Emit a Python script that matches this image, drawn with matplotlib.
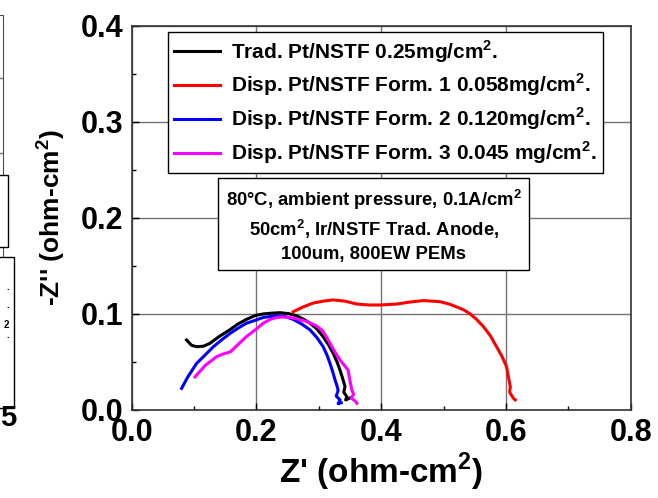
import numpy as np
import matplotlib
matplotlib.use("Agg")
import matplotlib.pyplot as plt
from matplotlib.patches import Rectangle
from matplotlib.ticker import MultipleLocator, FormatStrFormatter

plt.rcParams['font.family'] = ['Liberation Sans', 'DejaVu Sans']
plt.rcParams['font.weight'] = 'bold'
plt.rcParams['mathtext.fontset'] = 'custom'
plt.rcParams['mathtext.bf'] = 'Liberation Sans:bold'
plt.rcParams['mathtext.rm'] = 'Liberation Sans:bold'

# Nyquist data (Z', -Z'' in ohm-cm2)
trad_x = [0.088, 0.096, 0.104, 0.115, 0.1255, 0.14, 0.157, 0.17, 0.184, 0.198, 0.211, 0.225, 0.238,
          0.252, 0.265, 0.276, 0.286, 0.297, 0.307, 0.316, 0.323, 0.329, 0.334, 0.338, 0.342,
          0.340, 0.345, 0.343, 0.350]
trad_y = [0.0725, 0.067, 0.0655, 0.066, 0.069, 0.076, 0.083, 0.089, 0.094, 0.098, 0.0997, 0.1005, 0.101,
          0.100, 0.0976, 0.094, 0.090, 0.084, 0.076, 0.067, 0.0587, 0.050, 0.041, 0.033, 0.024,
          0.018, 0.0134, 0.010, 0.012]

f1_x = [0.259, 0.275, 0.291, 0.307, 0.323, 0.342, 0.361, 0.380, 0.398, 0.412, 0.425, 0.445, 0.4675,
        0.494, 0.509, 0.521, 0.532, 0.542, 0.553, 0.564, 0.575, 0.585, 0.594, 0.601, 0.604, 0.607,
        0.606, 0.612, 0.615]
f1_y = [0.102, 0.107, 0.111, 0.113, 0.1143, 0.113, 0.110, 0.109, 0.109, 0.1095, 0.110, 0.112, 0.1136,
        0.1125, 0.110, 0.107, 0.104, 0.100, 0.094, 0.0864, 0.077, 0.0655, 0.055, 0.0447, 0.034, 0.024,
        0.018, 0.0117, 0.010]

f2_x = [0.080, 0.090, 0.104, 0.118, 0.131, 0.145, 0.158, 0.171, 0.184, 0.198, 0.211, 0.222, 0.233,
        0.246, 0.259, 0.273, 0.286, 0.297, 0.307, 0.313, 0.318, 0.322, 0.326, 0.329, 0.331, 0.328,
        0.334, 0.331, 0.336]
f2_y = [0.022, 0.034, 0.048, 0.057, 0.0655, 0.073, 0.0795, 0.085, 0.090, 0.093, 0.096, 0.097, 0.0976,
        0.097, 0.094, 0.089, 0.083, 0.075, 0.0655, 0.057, 0.048, 0.040, 0.031, 0.025, 0.020, 0.014,
        0.010, 0.006, 0.007]

f3_x = [0.1015, 0.118, 0.136, 0.147, 0.158, 0.171, 0.184, 0.198, 0.211, 0.222, 0.232, 0.243, 0.254,
        0.268, 0.281, 0.294, 0.305, 0.312, 0.318, 0.326, 0.334, 0.341, 0.347, 0.350, 0.353, 0.356,
        0.352, 0.358, 0.361]
f3_y = [0.034, 0.046, 0.055, 0.058, 0.060, 0.068, 0.076, 0.083, 0.090, 0.094, 0.096, 0.0965, 0.096,
        0.094, 0.0917, 0.088, 0.083, 0.076, 0.069, 0.060, 0.0517, 0.046, 0.041, 0.030, 0.020, 0.016,
        0.012, 0.009, 0.0065]

sq = '$^{\\mathbf{2}}$'
series = [
    (trad_x, trad_y, 'black', 'Trad. Pt/NSTF 0.25mg/cm' + sq + '.'),
    (f1_x, f1_y, 'red', 'Disp. Pt/NSTF Form. 1 0.058mg/cm' + sq + '.'),
    (f2_x, f2_y, 'blue', 'Disp. Pt/NSTF Form. 2 0.120mg/cm' + sq + '.'),
    (f3_x, f3_y, 'magenta', 'Disp. Pt/NSTF Form. 3 0.045 mg/cm' + sq + '.'),
]

note = ("80\u00b0C, ambient pressure, 0.1A/cm" + sq + "\n50cm" + sq +
        ", Ir/NSTF Trad. Anode,\n100um, 800EW PEMs")

fig = plt.figure(figsize=(6.58, 4.98), dpi=100)

# cropped neighbouring panel at the far left edge
ax0 = fig.add_axes([-0.5, 1 - 408 / 498, 0.5046, 393 / 498])
ax0.set_xlim(0, 1)
ax0.set_ylim(0, 1)
ax0.set_xticks([])
ax0.set_yticks([0.649, 0.84])
ax0.tick_params(length=0, labelleft=False)
ax0.grid(True, axis='y', color='0.45', lw=1)
for s in ax0.spines.values():
    s.set_color('0.3')
fig.patches.append(Rectangle((-0.1, 1 - 247 / 498), 0.1 + 8 / 658, 72 / 498, transform=fig.transFigure,
                             fc='white', ec='black', lw=1))
fig.patches.append(Rectangle((-0.1, 1 - 408 / 498), 0.1 + 14 / 658, 151 / 498, transform=fig.transFigure,
                             fc='white', ec='black', lw=1))
for ty, txt in [(287, '.'), (305, '.'), (325, '2'), (335, '.')]:
    fig.text(6 / 658 if txt == '.' else 4 / 658, 1 - ty / 498, txt, fontsize=7, fontweight='bold',
             ha='left', va='center')
fig.text(0.0, 1 - 432 / 498, '5', fontsize=21, fontweight='bold', ha='left', va='bottom')

ax = fig.add_axes([0.2001, 0.1777, 0.7584, 0.7701])
for x, y, c, lab in series:
    ax.plot(x, y, color=c, lw=2.2, label=lab)

ax.set_xlim(0, 0.8)
ax.set_ylim(0, 0.4)
ax.xaxis.set_major_locator(MultipleLocator(0.2))
ax.xaxis.set_minor_locator(MultipleLocator(0.1))
ax.yaxis.set_major_locator(MultipleLocator(0.1))
ax.yaxis.set_minor_locator(MultipleLocator(0.05))
ax.xaxis.set_major_formatter(FormatStrFormatter('%.1f'))
ax.yaxis.set_major_formatter(FormatStrFormatter('%.1f'))
ax.grid(True, which='major', color='0.45', lw=1)
ax.set_axisbelow(True)
ax.tick_params(which='both', direction='in', labelsize=22, width=1)
ax.tick_params(which='major', length=5, pad=6)
ax.tick_params(which='minor', length=3)
for lbl in ax.get_xticklabels() + ax.get_yticklabels():
    lbl.set_fontweight('bold')
for s in ax.spines.values():
    s.set_color('0.2')
    s.set_linewidth(1.2)

ax.set_xlabel("Z' (ohm-cm$^{\\mathbf{2}}$)", fontsize=24, fontweight='bold', labelpad=2)
ax.set_ylabel("-Z'' (ohm-cm$^{\\mathbf{2}}$)", fontsize=19, fontweight='bold', labelpad=10)

leg = ax.legend(loc='upper left', bbox_to_anchor=(0.0727, 0.985), borderaxespad=0, fancybox=False,
                framealpha=1, edgecolor='black', prop={'size': 15, 'weight': 'bold'},
                handlelength=2.2, handletextpad=0.55, borderpad=0.3, labelspacing=0.35)
leg.get_frame().set_linewidth(1)

ax.text(0.485, 0.48, note, transform=ax.transAxes, ha='center', va='center', fontsize=13.3,
        fontweight='bold', linespacing=1.35,
        bbox=dict(boxstyle='square,pad=0.4', fc='white', ec='black', lw=1))

fig.savefig('out.png', dpi=100)
